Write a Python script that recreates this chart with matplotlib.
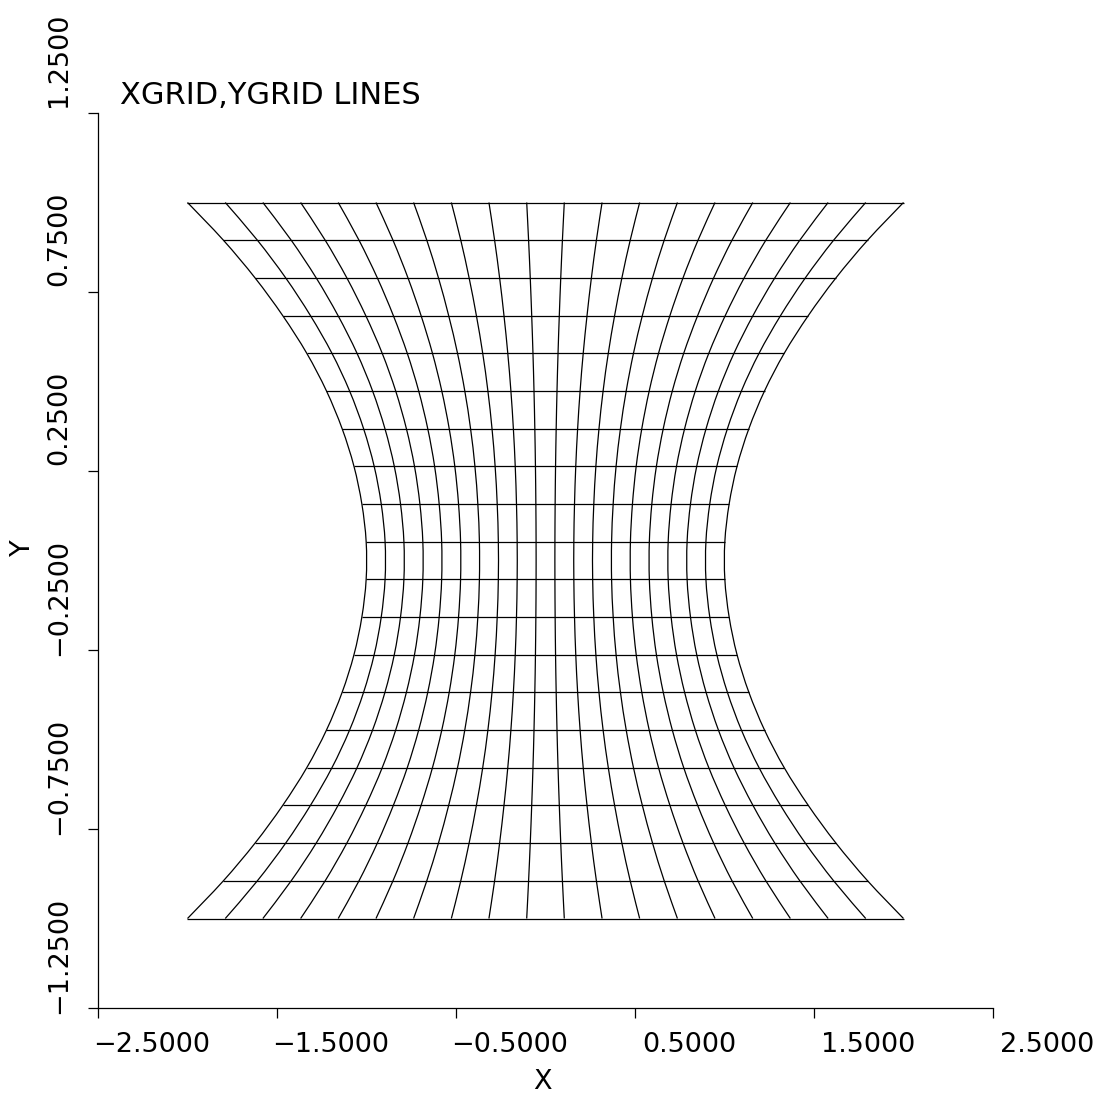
import numpy as np
import matplotlib
matplotlib.use('Agg')
import matplotlib.pyplot as plt
from matplotlib.path import Path
from matplotlib.patches import PathPatch
from matplotlib.transforms import ScaledTranslation

plt.rcParams['font.family'] = ['DejaVu Sans']

# 网格行的 y 值
row_y = [-1.0, -0.895, -0.789, -0.684, -0.579, -0.474, -0.368, -0.263, -0.158, -0.053,
         0.053, 0.158, 0.263, 0.368, 0.474, 0.579, 0.684, 0.789, 0.895, 1.0]
# 每一行相对最宽行的宽度比例
row_scale = [1.000, 0.900, 0.811, 0.734, 0.667, 0.612, 0.568, 0.535, 0.513, 0.501,
             0.501, 0.513, 0.535, 0.568, 0.612, 0.667, 0.734, 0.811, 0.900, 1.000]
# 最宽行上各列的 x 值
col_x = [-2.0, -1.789, -1.579, -1.368, -1.158, -0.947, -0.737, -0.526, -0.316, -0.105,
         0.105, 0.316, 0.526, 0.737, 0.947, 1.158, 1.368, 1.579, 1.789, 2.0]

x_ticks = [-2.5, -1.5, -0.5, 0.5, 1.5, 2.5]
x_tick_labels = ['\u22122.5000', '\u22121.5000', '\u22120.5000', '0.5000', '1.5000', '2.5000']
y_ticks = [-1.25, -0.75, -0.25, 0.25, 0.75, 1.25]
y_tick_labels = ['\u22121.2500', '\u22120.7500', '\u22120.2500', '0.2500', '0.7500', '1.2500']


def smooth_path(px, py):
    """把节点连成平滑曲线（Catmull-Rom 转三次贝塞尔）"""
    p = np.column_stack([px, py])
    ext = np.vstack([p[0], p, p[-1]])
    verts = [p[0]]
    codes = [Path.MOVETO]
    for k in range(len(p) - 1):
        p0, p1, p2, p3 = ext[k], ext[k + 1], ext[k + 2], ext[k + 3]
        verts += [p1 + (p2 - p0) / 6, p2 - (p3 - p1) / 6, p2]
        codes += [Path.CURVE4] * 3
    return Path(verts, codes)


W, H = 1108, 1102
fig = plt.figure(figsize=(W / 100, H / 100), dpi=100)
ax = fig.add_axes([98 / W, (H - 1008) / H, 895 / W, 895 / H])

# 网格节点
xs = np.outer(row_scale, col_x)
ys = np.array(row_y)

lw = 0.9
for i in range(len(row_y)):
    ax.plot(xs[i], [ys[i]] * len(col_x), color='black', lw=lw, solid_capstyle='butt')
for j in range(len(col_x)):
    ax.add_patch(PathPatch(smooth_path(xs[:, j], ys), fill=False, edgecolor='black', lw=lw))

ax.set_xlim(-2.5, 2.5)
ax.set_ylim(-1.25, 1.25)

for s in ['top', 'right']:
    ax.spines[s].set_visible(False)
for s in ['left', 'bottom']:
    ax.spines[s].set_linewidth(0.9)

ax.tick_params(direction='out', length=7.2, width=0.9, labelsize=19.5)
ax.tick_params(axis='x', pad=10)
ax.tick_params(axis='y', pad=11.5)

ax.set_xticks(x_ticks, x_tick_labels)
ax.set_yticks(y_ticks, y_tick_labels, rotation=90, va='center')

# 标签沿阅读方向偏移
dx = ScaledTranslation(54 / 100, 0, fig.dpi_scale_trans)
dy = ScaledTranslation(0, 53 / 100, fig.dpi_scale_trans)
for lab in ax.get_xticklabels():
    lab.set_transform(lab.get_transform() + dx)
for lab in ax.get_yticklabels():
    lab.set_transform(lab.get_transform() + dy)

fig.text(542 / W, 1 - 1082 / H, 'X', fontsize=19.5, ha='center', va='center')
fig.text(23 / W, 1 - 548 / H, 'Y', fontsize=19.5, ha='center', va='center', rotation=90)
fig.text(120 / W, 1 - 104 / H, 'XGRID,YGRID LINES', fontsize=22, ha='left', va='baseline')

fig.savefig('out.png', dpi=100)
